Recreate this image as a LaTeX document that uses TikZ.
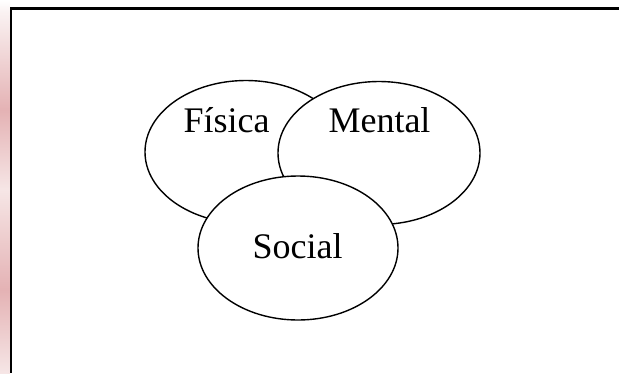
\documentclass[tikz,border=0pt]{standalone}
\usepackage{fontspec}
\setmainfont{Liberation Serif}
\usetikzlibrary{shapes.geometric}
\definecolor{pinkA}{RGB}{250,242,242}
\definecolor{pinkB}{RGB}{228,178,180}
\definecolor{pinkC}{RGB}{246,230,230}
\begin{document}
\begin{tikzpicture}[x=1pt,y=-1pt,
  blob/.style={draw=black,line width=1.4pt,fill=white,ellipse,inner sep=0pt},
  lbl/.style={font=\fontsize{36}{40}\selectfont,anchor=base,inner sep=0pt},
  frame/.style={line width=2.4pt,black}]
\useasboundingbox (0,0) rectangle (619,373);
\fill[white] (0,0) rectangle (619,373);
% pink strip on the left
\shade[top color=white,bottom color=pinkA] (0,0) rectangle (10,12);
\shade[top color=pinkA,bottom color=pinkB] (0,12) rectangle (10,110);
\shade[top color=pinkB,bottom color=pinkC] (0,110) rectangle (10,190);
\shade[top color=pinkC,bottom color=pinkB] (0,190) rectangle (10,290);
\shade[top color=pinkB,bottom color=pinkC] (0,290) rectangle (10,373);
% frame
\coordinate (fc) at (11,8.5);
\coordinate (fr) at (619,8.5);
\coordinate (fb) at (11,373);
\draw[frame] (fr) -- (fc) -- (fb);
% ellipses
\node[blob,minimum width=202pt,minimum height=143pt] (fisica) at (246,152) {};
\node[blob,minimum width=202pt,minimum height=143pt] (mental) at (379,153) {};
\node[blob,minimum width=200pt,minimum height=144pt] (social) at (298,248) {};
% labels
\node[lbl] (tf) at (226.5,132) {Física};
\node[lbl] (tm) at (379.5,132) {Mental};
\node[lbl] (ts) at (297.5,258) {Social};
\end{tikzpicture}
\end{document}
